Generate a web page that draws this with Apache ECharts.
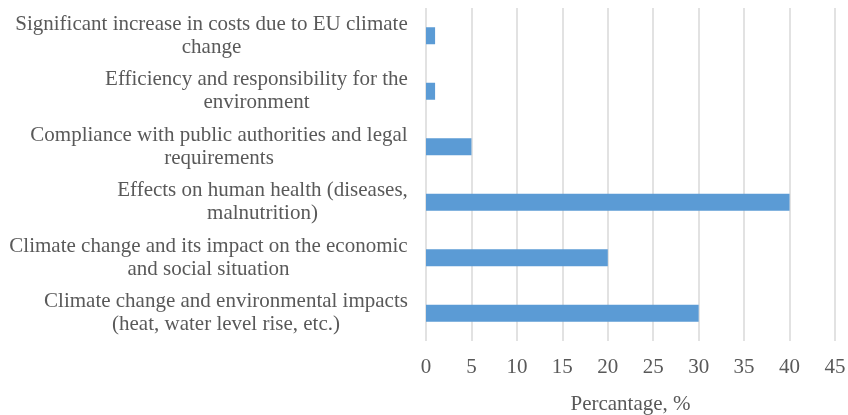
<!DOCTYPE html>
<html><head><meta charset="utf-8">
<script src="https://cdn.jsdelivr.net/npm/echarts@6/dist/echarts.min.js"></script>
<style>html,body{margin:0;padding:0;background:#fff}#c{width:848px;height:415px}</style>
</head><body><div id="c"></div>
<script>
const categories = [
  "Significant increase in costs due to EU climate\nchange",
  "Efficiency and responsibility for the\nenvironment",
  "Compliance with public authorities and legal\nrequirements",
  "Effects on human health (diseases,\nmalnutrition)",
  "Climate change and its impact on the economic\nand social situation",
  "Climate change and environmental impacts\n(heat, water level rise, etc.)"
];
const values = [1, 1, 5, 40, 20, 30];
const xTicks = {min: 0, max: 45, interval: 5};
const axisName = "Percantage, %";

const FONT = '"Liberation Serif","Times New Roman",serif';
const FS = 21;
const cv = document.createElement('canvas').getContext('2d');
cv.font = FS + 'px ' + FONT;
const rich = {};
categories.forEach((c, i) => {
  const w = Math.max(...c.split('\n').map(l => cv.measureText(l).width));
  rich['r' + i] = {width: Math.ceil(w), align: 'center', fontFamily: FONT, fontSize: FS, color: '#595959', lineHeight: 23};
});

const chart = echarts.init(document.getElementById('c'));
chart.setOption({
  animation: false,
  grid: {left: 426, right: 13, top: 8, bottom: 74, containLabel: false, outerBoundsMode: 'none'},
  xAxis: {
    type: 'value', min: xTicks.min, max: xTicks.max, interval: xTicks.interval,
    name: axisName, nameLocation: 'middle', nameGap: 53,
    nameTextStyle: {fontFamily: FONT, fontSize: FS, color: '#595959'},
    axisLine: {show: false}, axisTick: {show: false},
    axisLabel: {fontFamily: FONT, fontSize: FS, color: '#595959', margin: 16},
    splitLine: {show: true, lineStyle: {color: '#d9d9d9', width: 1.5}}
  },
  yAxis: {
    type: 'category', data: categories, inverse: true,
    axisLine: {show: false}, axisTick: {show: false},
    axisLabel: {
      margin: 18, align: 'right',
      formatter: (v, i) => v.split('\n').map(l => '{r' + i + '|' + l + '}').join('\n'),
      rich: rich
    }
  },
  series: [{
    type: 'bar', data: values, barWidth: 17,
    itemStyle: {color: '#5b9bd5'}
  }]
});
</script></body></html>
